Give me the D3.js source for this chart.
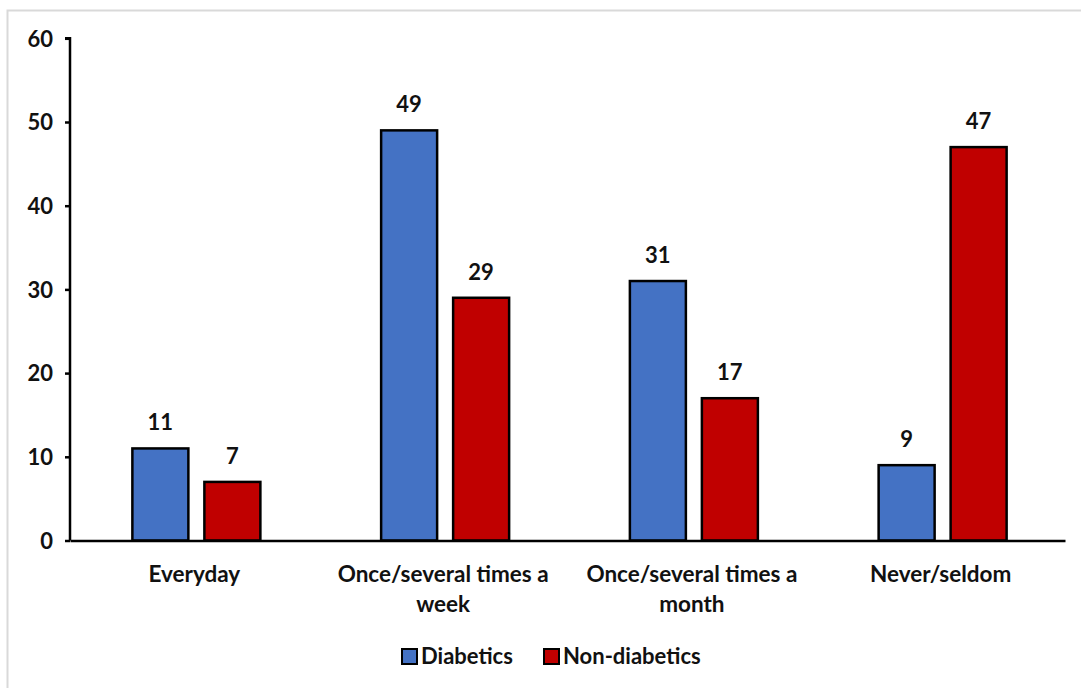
<!DOCTYPE html>
<html>
<head>
<meta charset="utf-8">
<script src="https://cdn.jsdelivr.net/npm/d3@7"></script>
<style>
  html, body { margin: 0; padding: 0; background: #fff; }
  svg { display: block; }
  text { font-family: Lato, "Open Sans", sans-serif; font-weight: 700; fill: #111; }
</style>
</head>
<body>
<svg id="chart" width="1081" height="688"></svg>
<script>
// Frequency categories (two-line labels split on "\n")
const categories = ["Everyday", "Once/several times a\nweek", "Once/several times a\nmonth", "Never/seldom"];
const seriesNames = ["Diabetics", "Non-diabetics"];
const diabetics = [11, 49, 31, 9];
const nonDiabetics = [7, 29, 17, 47];
const yTicks = [0, 10, 20, 30, 40, 50, 60];
const colors = ["#4472C4", "#C00000"];

const svg = d3.select("#chart");
const W = 1081, H = 688;

// light outer frame
svg.append("rect")
  .attr("x", 7.5).attr("y", 10.5)
  .attr("width", W + 10).attr("height", H + 10)
  .attr("fill", "#fff").attr("stroke", "#d9d9d9").attr("stroke-width", 2);

const plot = { left: 70, right: 1065, top: 38.3, bottom: 540.5 };

const y = d3.scaleLinear().domain([0, 60]).range([plot.bottom, plot.top]);
const x0 = d3.scaleBand().domain(categories).range([plot.left, plot.right]).padding(0);
const pairWidth = 128;
const x1 = d3.scaleBand().domain(seriesNames).range([0, pairWidth]).paddingInner(16 / 72).paddingOuter(0);

const rows = categories.map((c, i) => ({ cat: c, vals: [diabetics[i], nonDiabetics[i]] }));

// bars
const groups = svg.append("g").selectAll("g").data(rows).join("g")
  .attr("transform", d => `translate(${x0(d.cat) + (x0.bandwidth() - pairWidth) / 2 + 2},0)`);

groups.selectAll("rect").data(d => d.vals.map((v, j) => ({ name: seriesNames[j], v, j })))
  .join("rect")
  .attr("x", d => x1(d.name))
  .attr("y", d => y(d.v))
  .attr("width", x1.bandwidth())
  .attr("height", d => y(0) - y(d.v))
  .attr("fill", d => colors[d.j])
  .attr("stroke", "#000")
  .attr("stroke-width", 2.5);

// value labels
groups.selectAll("text.val").data(d => d.vals.map((v, j) => ({ name: seriesNames[j], v })))
  .join("text")
  .attr("class", "val")
  .attr("x", d => x1(d.name) + x1.bandwidth() / 2)
  .attr("y", d => y(d.v) - 18)
  .attr("text-anchor", "middle")
  .style("font-size", "22px")
  .text(d => d.v);

// y axis
const yAxis = d3.axisLeft(y).tickValues(yTicks).tickSize(5).tickPadding(12);
const gy = svg.append("g").attr("transform", `translate(${plot.left},0)`).call(yAxis);
gy.select(".domain").attr("stroke", "#000").attr("stroke-width", 2.5).attr("d", `M-5,${plot.top}H0V${plot.bottom}`);
gy.selectAll(".tick line").attr("stroke", "#000").attr("stroke-width", 2.5);
gy.selectAll(".tick text").style("font-size", "22px").style("font-family", "Lato, sans-serif").style("font-weight", 700).attr("fill", "#111").attr("dy", "0.35em");

// x axis baseline
const xAxis = d3.axisBottom(x0).tickSize(0).tickFormat("");
const gx = svg.append("g").attr("transform", `translate(0,${plot.bottom})`).call(xAxis);
gx.select(".domain").attr("stroke", "#000").attr("stroke-width", 2.5);

// category labels
const catLabels = svg.append("g").selectAll("text").data(categories).join("text")
  .attr("x", d => x0(d) + x0.bandwidth() / 2)
  .attr("y", 582)
  .attr("text-anchor", "middle")
  .style("font-size", "22.5px");
catLabels.selectAll("tspan").data(d => d.split("\n")).join("tspan")
  .attr("x", function () { return d3.select(this.parentNode).attr("x"); })
  .attr("dy", (d, i) => i === 0 ? 0 : 30)
  .text(d => d);

// legend
const legendItems = [
  { name: seriesNames[0], color: colors[0], x: 401 },
  { name: seriesNames[1], color: colors[1], x: 543 }
];
const lg = svg.append("g").selectAll("g").data(legendItems).join("g")
  .attr("transform", d => `translate(${d.x},648)`);
lg.append("rect").attr("x", 1).attr("y", 1).attr("width", 15).attr("height", 15)
  .attr("fill", d => d.color).attr("stroke", "#000").attr("stroke-width", 2);
lg.append("text").attr("x", 20).attr("y", 16).style("font-size", "22px").text(d => d.name);
</script>
</body>
</html>
